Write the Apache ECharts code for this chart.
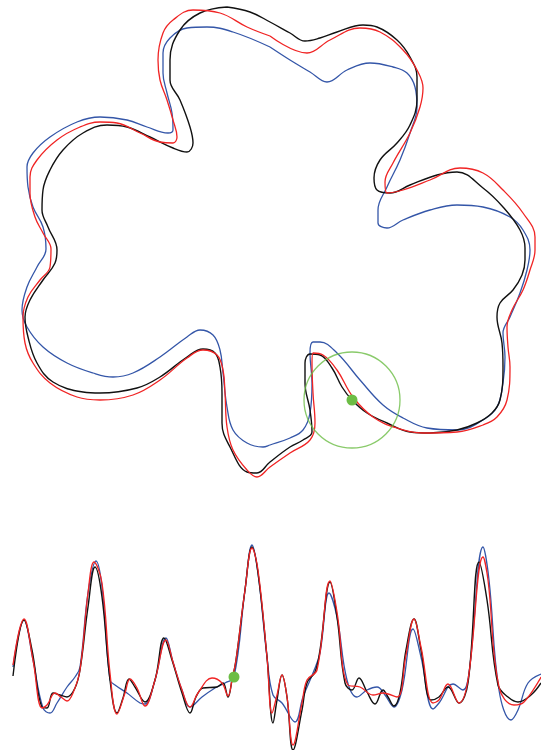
<!DOCTYPE html>
<html><head><meta charset="utf-8">
<script src="https://cdn.jsdelivr.net/npm/echarts@6/dist/echarts.min.js"></script>
<style>html,body{margin:0;padding:0;background:#fff;}#c{width:541px;height:750px;}</style>
</head><body><div id="c"></div>
<script>
// Contour outlines (data coordinates, y grows downward)
const shapeBlack = [[227,7],[200,13],[180,30],[170,60],[170,80],[180,100],[190,127],[193,143],[187,152],[173,148],[150,137],[127,127],[107,125],[83,133],[63,150],[50,170],[43,190],[42,210],[48,227],[57,250],[55,263],[43,280],[30,300],[25,317],[28,337],[37,363],[53,382],[83,392],[100,393],[137,388],[160,377],[187,357],[203,349],[215,353],[220,367],[222,393],[222,423],[230,447],[247,472],[257,473],[270,462],[290,447],[303,440],[312,432],[310,410],[305,383],[305,363],[310,354],[320,355],[332,368],[342,387],[352,400],[367,413],[387,423],[410,432],[430,433],[457,430],[477,423],[492,413],[500,400],[503,367],[502,343],[497,317],[500,303],[513,290],[522,275],[525,260],[525,248],[520,230],[503,207],[483,188],[457,172],[437,175],[410,185],[390,193],[377,190],[374,178],[380,160],[397,143],[410,125],[417,100],[417,77],[410,57],[397,40],[377,27],[363,25],[337,32],[320,38],[305,41],[290,33],[270,22],[250,12],[227,7]];
const shapeRed = [[270,36],[247,27],[220,13],[193,10],[173,20],[163,33],[158,60],[160,80],[167,100],[173,120],[177,137],[173,143],[160,142],[140,133],[117,123],[100,122],[80,127],[57,140],[37,160],[30,177],[30,193],[35,217],[43,233],[51,249],[50,267],[40,280],[28,297],[23,317],[25,343],[33,363],[50,383],[77,397],[100,400],[133,395],[160,380],[187,358],[203,350],[217,355],[223,370],[225,393],[227,427],[233,450],[247,470],[257,477],[270,467],[290,453],[310,440],[315,423],[313,393],[312,363],[313,353],[323,355],[337,370],[353,397],[373,417],[397,428],[423,433],[457,432],[483,425],[497,417],[507,400],[510,367],[508,347],[507,327],[512,310],[523,290],[530,270],[535,250],[535,237],[523,213],[503,190],[483,173],[460,168],[430,180],[403,190],[387,193],[385,182],[393,163],[410,133],[420,107],[423,88],[417,70],[403,50],[380,32],[360,28],[330,40],[307,53],[270,36]];
const shapeBlue = [[270,47],[233,32],[207,27],[187,28],[170,38],[163,53],[163,73],[167,93],[172,113],[173,130],[168,133],[147,127],[127,120],[100,117],[77,122],[50,137],[33,153],[27,167],[28,187],[33,207],[43,227],[46,249],[37,267],[27,287],[22,310],[27,327],[43,347],[67,363],[93,373],[113,377],[133,373],[160,357],[187,337],[200,330],[213,335],[220,350],[223,373],[227,407],[233,430],[247,443],[263,447],[270,445],[290,438],[303,430],[310,413],[312,383],[310,353],[313,342],[320,342],[337,353],[360,380],[383,405],[403,418],[427,428],[457,430],[483,420],[497,407],[503,383],[505,357],[503,333],[510,317],[520,293],[527,270],[530,250],[523,230],[510,217],[483,207],[457,205],[430,210],[403,220],[387,228],[378,223],[378,210],[387,187],[400,160],[410,133],[417,107],[415,87],[407,73],[393,67],[370,63],[347,70],[327,82],[310,72],[290,60],[270,47]];
// Profiles along the contour
const profBlack = [[13,676],[24,620],[32,650],[42,707],[47,708],[53,693],[60,695],[67,697],[75,688],[80,670],[88,607],[95,567],[102,597],[110,680],[117,713],[123,698],[129,679],[135,687],[145,702],[155,680],[164,638],[172,660],[182,693],[190,713],[196,697],[203,688],[217,687],[223,683],[228,697],[232,680],[236,660],[245,590],[252,547],[258,573],[267,657],[273,723],[277,700],[282,675],[287,697],[293,750],[302,710],[307,683],[315,672],[320,650],[330,582],[337,617],[345,683],[352,690],[359,678],[367,692],[375,704],[383,690],[388,697],[394,706],[400,693],[406,650],[414,619],[421,650],[431,700],[439,697],[448,687],[459,703],[468,683],[479,562],[487,600],[498,685],[508,697],[518,702],[531,695],[541,683]];
const profRed = [[13,665],[24,619],[33,660],[42,708],[47,705],[55,693],[61,697],[67,701],[73,693],[80,670],[88,593],[94,562],[102,583],[110,673],[117,714],[125,693],[130,679],[137,688],[145,706],[155,680],[166,640],[173,662],[182,690],[190,707],[198,693],[212,678],[222,683],[228,696],[232,680],[236,660],[245,590],[252,548],[258,570],[267,657],[272,713],[277,695],[282,675],[287,697],[293,745],[302,703],[307,680],[317,670],[330,581],[337,612],[348,685],[360,687],[373,695],[383,693],[397,697],[406,655],[414,619],[421,647],[433,703],[439,700],[448,684],[459,703],[468,680],[483,557],[488,580],[499,687],[514,705],[524,702],[541,677]];
const profBlue = [[13,667],[24,620],[33,660],[43,708],[50,713],[57,703],[67,687],[75,677],[80,667],[88,593],[96,561],[102,587],[110,680],[115,685],[127,693],[140,703],[145,704],[155,680],[166,638],[173,662],[182,690],[190,707],[202,697],[215,688],[225,683],[234,677],[245,590],[252,545],[258,573],[267,657],[273,695],[282,703],[295,722],[303,697],[313,673],[320,653],[329,593],[337,617],[347,680],[357,697],[367,690],[377,687],[385,695],[394,707],[402,690],[413,629],[421,657],[433,709],[439,703],[453,684],[463,690],[469,673],[483,547],[489,580],[499,690],[511,720],[518,710],[528,683],[541,674]];
// Highlighted point
const markerShape = [[352,400]];
const markerProfile = [[234,677]];

const BLACK = '#111111', RED = '#f02424', BLUE = '#3456a8', GREEN = '#6cbd45';
function line(data, color, w) {
  return { type: 'line', data: data, smooth: 0.4, symbol: 'none', clip: false, z: 2,
    lineStyle: { color: color, width: w }, silent: true, animation: false };
}
const chart = echarts.init(document.getElementById('c'));
chart.setOption({
  animation: false,
  grid: { left: 0, right: 0, top: 0, bottom: 0 },
  xAxis: { type: 'value', min: 0, max: 541, show: false },
  yAxis: { type: 'value', min: 0, max: 750, inverse: true, show: false },
  series: [
    line(shapeBlue, BLUE, 1.3), line(shapeBlack, BLACK, 1.4), line(shapeRed, RED, 1.3),
    line(profBlue, BLUE, 1.3), line(profBlack, BLACK, 1.4), line(profRed, RED, 1.3),
    { type: 'scatter', data: markerShape, symbolSize: 96, clip: false, silent: true, z: 5,
      itemStyle: { color: 'rgba(0,0,0,0)', borderColor: GREEN, borderWidth: 1.3 } },
    { type: 'scatter', data: markerShape.concat(markerProfile), symbolSize: 11, clip: false, silent: true, z: 10,
      itemStyle: { color: GREEN, opacity: 1 } }
  ]
});
</script>
</body></html>
